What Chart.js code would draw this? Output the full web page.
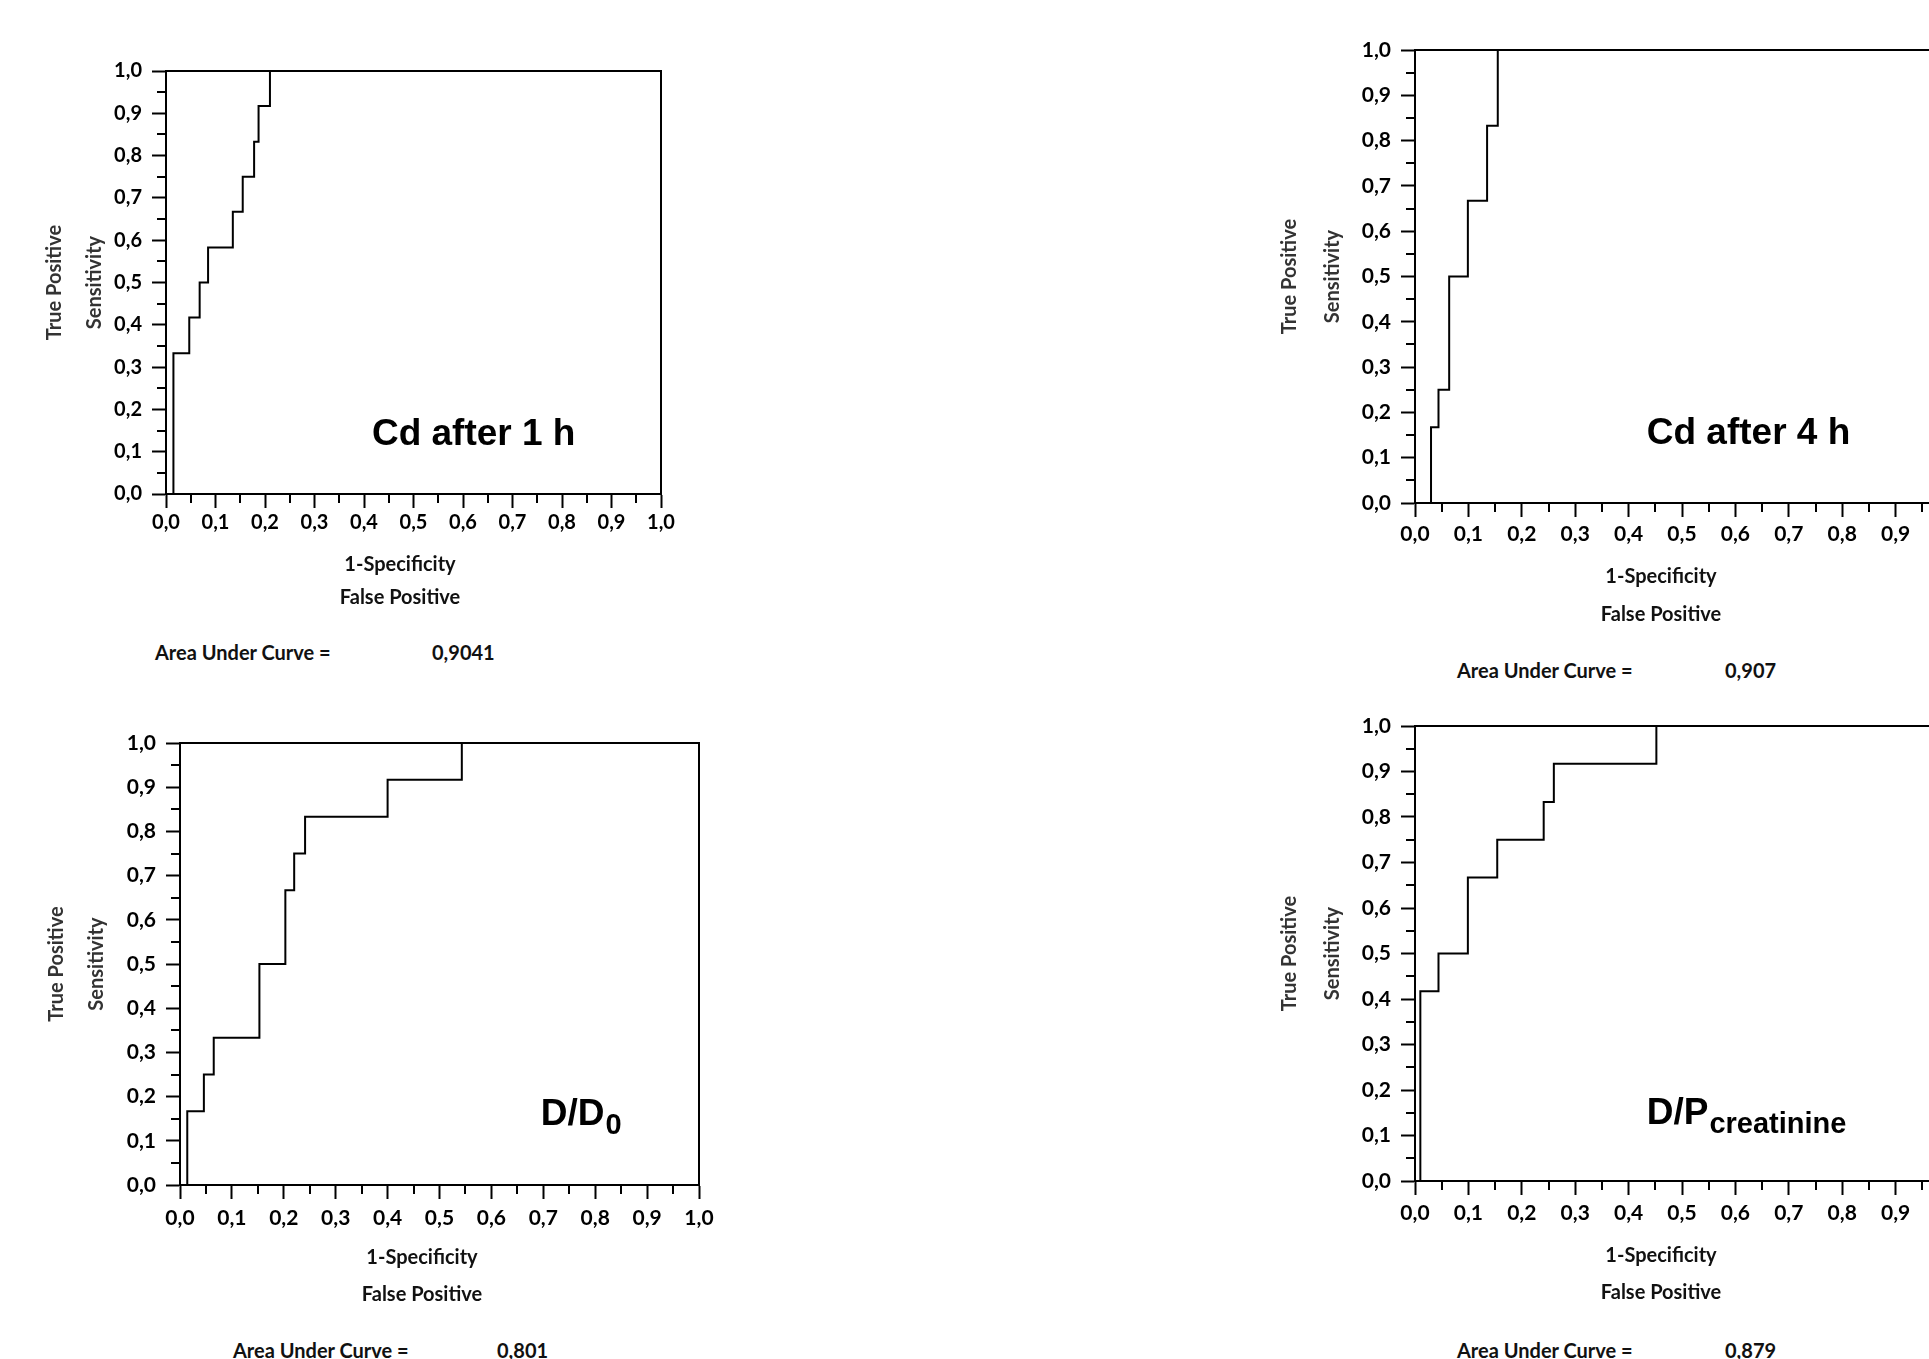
<!DOCTYPE html>
<html>
<head>
<meta charset="utf-8">
<script src="https://cdn.jsdelivr.net/npm/chart.js@4.4.1/dist/chart.umd.min.js"></script>
<style>
html, body { margin: 0; padding: 0; overflow: hidden; background: #fff; }
#stage { position: relative; width: 1929px; height: 1359px; overflow: hidden; background: #fff; }
.panel { position: absolute; }
.auc { position: absolute; font: bold 20px Lato, "DejaVu Sans", sans-serif; color: #111; line-height: 24px; white-space: nowrap; }
</style>
</head>
<body>
<div id="stage"></div>
<script>
// ---- Data ----
const tickValues = [0, 0.1, 0.2, 0.3, 0.4, 0.5, 0.6, 0.7, 0.8, 0.9, 1.0];
const tickLabels = ['0,0', '0,1', '0,2', '0,3', '0,4', '0,5', '0,6', '0,7', '0,8', '0,9', '1,0'];
const minorTickValues = [0.05, 0.15, 0.25, 0.35, 0.45, 0.55, 0.65, 0.75, 0.85, 0.95];

const xTitle = ['1-Specificity', 'False Positive'];
const yTitle = ['True Positive', 'Sensitivity'];
const panelTitles = ['Cd after 1 h', 'Cd after 4 h', 'D/D', 'D/P'];
const panelSubscripts = ['', '', '0', 'creatinine'];
const aucLabel = 'Area Under Curve =';
const aucValues = ['0,9041', '0,907', '0,801', '0,879'];

// ROC points (1-specificity, sensitivity), drawn as steps
const cd1hFpr = [0, 0.015, 0.047, 0.068, 0.085, 0.135, 0.155, 0.178, 0.187, 0.21, 1];
const cd1hTpr = [0, 0.333, 0.417, 0.5, 0.583, 0.667, 0.75, 0.833, 0.917, 1, 1];

const cd4hFpr = [0, 0.03, 0.044, 0.064, 0.099, 0.135, 0.155, 1];
const cd4hTpr = [0, 0.167, 0.25, 0.5, 0.667, 0.833, 1, 1];

const dd0Fpr = [0, 0.014, 0.046, 0.065, 0.153, 0.203, 0.22, 0.241, 0.4, 0.543, 1];
const dd0Tpr = [0, 0.167, 0.25, 0.333, 0.5, 0.667, 0.75, 0.833, 0.917, 1, 1];

const dpcFpr = [0, 0.01, 0.044, 0.099, 0.154, 0.241, 0.26, 0.452, 1];
const dpcTpr = [0, 0.417, 0.5, 0.667, 0.75, 0.833, 0.917, 1, 1];

// ---- Layout (page pixels) ----
const PAD_T = 36, PAD_R = 36;
const geoms = [
  { plot: [166, 71, 661, 494],     wy: 131, hx: 120, lhY: 40, tickSize: 20, tickPadX: 3, xt: [400, 71, 104],  label: [0.416, 0.117], auc: [155, 432, 652] },
  { plot: [1415, 50, 1949, 503],   wy: 147, hx: 131, lhY: 43, tickSize: 21, tickPadX: 5, xt: [1661, 74, 112], label: [0.434, 0.13],  auc: [1457, 1725, 670] },
  { plot: [180, 743, 699, 1185],   wy: 143, hx: 128, lhY: 40, tickSize: 21, tickPadX: 7, xt: [422, 73, 110],  label: [0.695, 0.135], auc: [233, 497, 1350] },
  { plot: [1415, 726, 1949, 1181], wy: 147, hx: 130, lhY: 43, tickSize: 21, tickPadX: 6, xt: [1661, 75, 112], label: [0.434, 0.125], auc: [1457, 1725, 1350] }
];
const series = [[cd1hFpr, cd1hTpr], [cd4hFpr, cd4hTpr], [dd0Fpr, dd0Tpr], [dpcFpr, dpcTpr]];

const stage = document.getElementById('stage');

function framePlugin(idx, originX) {
  const g = geoms[idx];
  return {
    id: 'frame' + idx,
    afterDraw(chart) {
      const { ctx, chartArea: a, scales: { x, y } } = chart;
      ctx.save();
      ctx.strokeStyle = '#000';
      ctx.lineWidth = 2;
      ctx.lineCap = 'square';
      ctx.beginPath();
      ctx.moveTo(a.left, a.top);
      ctx.lineTo(a.right, a.top);
      ctx.lineTo(a.right, a.bottom);
      ctx.stroke();
      ctx.lineCap = 'butt';
      ctx.beginPath();
      minorTickValues.forEach(v => {
        const px = Math.round(x.getPixelForValue(v));
        ctx.moveTo(px, a.bottom);
        ctx.lineTo(px, a.bottom + 9);
        const py = Math.round(y.getPixelForValue(v));
        ctx.moveTo(a.left, py);
        ctx.lineTo(a.left - 9, py);
      });
      ctx.stroke();

      // x-axis title (two lines)
      ctx.fillStyle = '#111';
      ctx.textAlign = 'center';
      ctx.textBaseline = 'middle';
      ctx.font = 'bold 20px Lato, sans-serif';
      const tx = g.xt[0] - originX;
      ctx.fillText(xTitle[0], tx, a.bottom + g.xt[1]);
      ctx.fillText(xTitle[1], tx, a.bottom + g.xt[2]);

      // panel label
      const lx = x.getPixelForValue(g.label[0]);
      const ly = y.getPixelForValue(g.label[1]);
      ctx.fillStyle = '#000';
      ctx.textBaseline = 'alphabetic';
      ctx.textAlign = 'left';
      ctx.font = 'bold 37px "Liberation Sans", Arial, sans-serif';
      const main = panelTitles[idx];
      ctx.fillText(main, lx, ly);
      const sub = panelSubscripts[idx];
      if (sub) {
        const w = ctx.measureText(main).width;
        ctx.font = 'bold 29px "Liberation Sans", Arial, sans-serif';
        ctx.fillText(sub, lx + w + 1, ly + 9);
      }
      ctx.restore();
    }
  };
}

function makePanel(idx) {
  const g = geoms[idx];
  const [fpr, tpr] = series[idx];
  const cx = g.plot[0] - g.wy;
  const cy = g.plot[1] - PAD_T;
  const cw = g.plot[2] + PAD_R - cx;
  const ch = g.plot[3] + g.hx - cy;

  const wrap = document.createElement('div');
  wrap.className = 'panel';
  wrap.style.left = cx + 'px';
  wrap.style.top = cy + 'px';
  wrap.style.width = cw + 'px';
  wrap.style.height = ch + 'px';
  const canvas = document.createElement('canvas');
  canvas.width = cw; canvas.height = ch;
  canvas.style.width = cw + 'px'; canvas.style.height = ch + 'px';
  wrap.appendChild(canvas);
  stage.appendChild(wrap);

  const tickFont = { family: 'Lato', weight: 'bold', size: g.tickSize };
  new Chart(canvas, {
    type: 'line',
    data: {
      datasets: [{
        data: fpr.map((v, k) => ({ x: v, y: tpr[k] })),
        borderColor: '#000',
        borderWidth: 2,
        pointRadius: 0,
        stepped: 'before',
        fill: false
      }]
    },
    options: {
      responsive: false,
      animation: false,
      devicePixelRatio: 1,
      layout: { padding: { top: PAD_T, right: PAD_R, left: 0, bottom: 0 } },
      plugins: { legend: { display: false }, tooltip: { enabled: false } },
      scales: {
        x: {
          type: 'linear', min: 0, max: 1,
          afterBuildTicks(s) { s.ticks = tickValues.map(v => ({ value: v })); },
          afterFit(s) { s.height = g.hx; },
          ticks: { callback: (v, i) => tickLabels[i], font: tickFont, color: '#000', padding: g.tickPadX, maxRotation: 0, autoSkip: false },
          grid: { drawOnChartArea: false, drawTicks: true, tickLength: 14, tickWidth: 2, tickColor: '#000' },
          border: { display: true, color: '#000', width: 2 },
          title: { display: false }
        },
        y: {
          type: 'linear', min: 0, max: 1,
          afterBuildTicks(s) { s.ticks = tickValues.map(v => ({ value: v })); },
          afterFit(s) { s.width = g.wy; },
          ticks: { callback: (v, i) => tickLabels[i], font: tickFont, color: '#000', padding: 10, autoSkip: false },
          grid: { drawOnChartArea: false, drawTicks: true, tickLength: 14, tickWidth: 2, tickColor: '#000' },
          border: { display: true, color: '#000', width: 2 },
          title: { display: true, text: yTitle, color: '#333', padding: 0,
                   font: { family: 'Lato', weight: 'bold', size: 20, lineHeight: g.lhY + 'px' } }
        }
      }
    },
    plugins: [framePlugin(idx, cx)]
  });

  const a1 = document.createElement('div');
  a1.className = 'auc';
  a1.style.left = g.auc[0] + 'px';
  a1.style.top = (g.auc[2] - 12) + 'px';
  a1.textContent = aucLabel;
  stage.appendChild(a1);
  const a2 = document.createElement('div');
  a2.className = 'auc';
  a2.style.left = g.auc[1] + 'px';
  a2.style.top = (g.auc[2] - 12) + 'px';
  a2.textContent = aucValues[idx];
  stage.appendChild(a2);
}

for (let i = 0; i < 4; i++) makePanel(i);
</script>
</body>
</html>
